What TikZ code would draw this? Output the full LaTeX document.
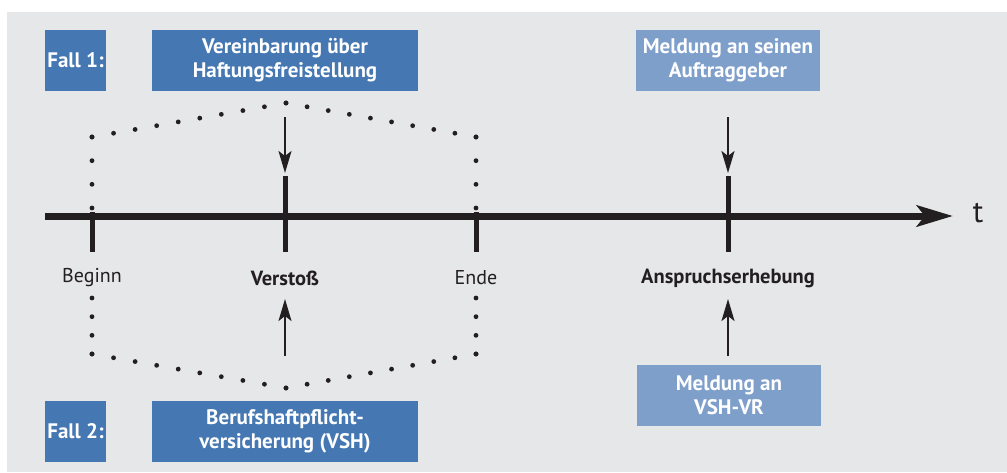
\documentclass[tikz,border=0pt]{standalone}
\usepackage{fontspec}
\setmainfont{PT Sans}
\usetikzlibrary{arrows.meta,calc}
\definecolor{bg}{HTML}{E6E7E9}
\definecolor{darkblue}{HTML}{4577B2}
\definecolor{lightblue}{HTML}{7F9FCB}
\definecolor{ink}{HTML}{231F20}
\begin{document}
\begin{tikzpicture}[x=1pt,y=-1pt,
  box/.style={fill=darkblue, text=white, font=\fontsize{21}{24}\selectfont\bfseries, align=center, inner sep=0pt, minimum height=61pt},
  lightbox/.style={box, fill=lightblue},
  lbl/.style={text=ink, font=\fontsize{20}{22}\selectfont, inner sep=0pt},
  blbl/.style={lbl, font=\fontsize{20.5}{22}\selectfont\bfseries},
  tickline/.style={draw=ink, line width=5pt},
  smallarrow/.style={draw=ink, line width=2pt, -{Stealth[length=22pt,width=13pt,inset=5pt]}},
  dotc/.style={fill=ink}
]
\useasboundingbox (0,0) rectangle (1007,472);
\fill[bg] (7,12) rectangle (1007,472);

% boxes
\node[box, minimum width=61pt] (fall1) at (75.5,60.5) {Fall 1:};
\node[box, minimum width=266pt] (verein) at (285,60.5) {Vereinbarung über\\Haftungsfreistellung};
\node[lightbox, minimum width=184pt] (meldAG) at (728,60.5) {Meldung an seinen\\Auftraggeber};
\node[box, minimum width=61pt] (fall2) at (75.5,431.5) {Fall 2:};
\node[box, minimum width=266pt] (beruf) at (285,431.5) {Berufshaftpflicht-\\versicherung (VSH)};
\node[lightbox, minimum width=184pt] (meldVR) at (729,395.5) {Meldung an\\VSH-VR};

% dotted outline
\coordinate (tl) at (92,137);
\coordinate (ta) at (286,103);
\coordinate (tr) at (476,137);
\coordinate (tlv) at (92,208);
\coordinate (trv) at (476,208);
\coordinate (bl) at (92,354);
\coordinate (ba) at (286,388);
\coordinate (br) at (476,354);
\coordinate (blv) at (92,298);
\coordinate (brv) at (476,298);
\foreach \a/\b/\n in {tl/ta/9, ta/tr/9, tl/tlv/3, tr/trv/3, bl/ba/9, ba/br/9, blv/bl/3, brv/br/3}
  \foreach \i in {0,...,\n}
    \fill[dotc] ($(\a)!\i/\n!(\b)$) circle[radius=2.4];

% timeline
\coordinate (tstart) at (45,216);
\coordinate (tend) at (953,216);
\draw[draw=ink, line width=7pt, -{Stealth[length=36pt,width=21pt,inset=8pt]}] (tstart) -- (tend);
\node[text=ink, font=\fontsize{31}{32}\selectfont, inner sep=0pt] (t) at (978,213) {t};

% ticks
\coordinate (beginTop) at (92,212);
\coordinate (beginBot) at (92,252);
\coordinate (verTop) at (285,176);
\coordinate (verBot) at (285,252);
\coordinate (endeTop) at (476,212);
\coordinate (endeBot) at (476,252);
\coordinate (ansTop) at (728,176);
\coordinate (ansBot) at (728,252);
\draw[tickline] (beginTop) -- (beginBot);
\draw[tickline] (verTop) -- (verBot);
\draw[tickline] (endeTop) -- (endeBot);
\draw[tickline] (ansTop) -- (ansBot);

% labels
\node[lbl] (beginn) at (92,278) {Beginn};
\node[blbl] (verstoss) at (285,278) {Verstoß};
\node[lbl] (ende) at (476,278) {Ende};
\node[blbl] (anspruch) at (728,278) {Anspruchserhebung};

% arrows
\coordinate (a1s) at (285,117);
\coordinate (a1e) at (285,173);
\coordinate (a2s) at (728,117);
\coordinate (a2e) at (728,173);
\coordinate (a3s) at (285,356);
\coordinate (a3e) at (285,299);
\coordinate (a4s) at (728,356);
\coordinate (a4e) at (728,299);
\draw[smallarrow] (a1s) -- (a1e);
\draw[smallarrow] (a2s) -- (a2e);
\draw[smallarrow] (a3s) -- (a3e);
\draw[smallarrow] (a4s) -- (a4e);
\end{tikzpicture}
\end{document}
